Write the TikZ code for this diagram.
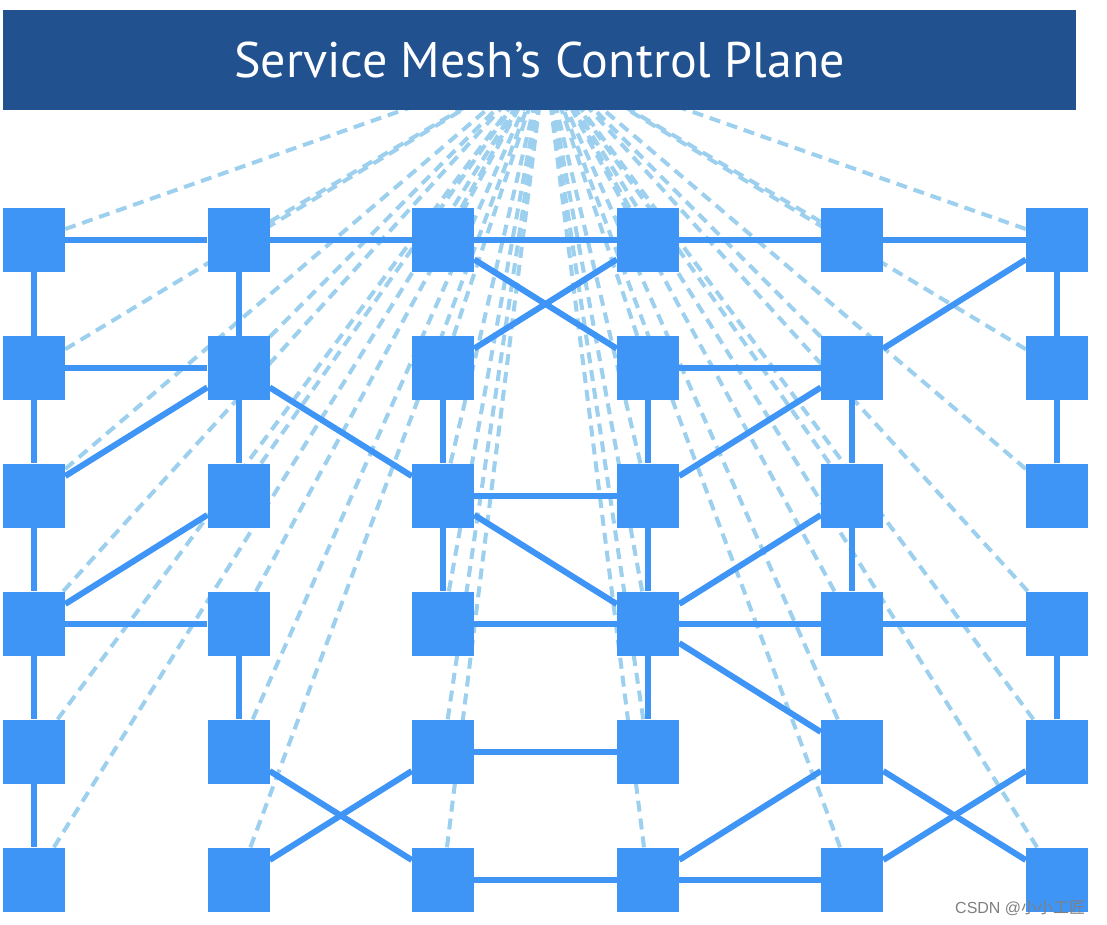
\documentclass[tikz,border=0pt]{standalone}
\usepackage{fontspec}
\newfontfamily\hdrfont{PT Sans}
\newfontfamily\cjkfont{Noto Sans CJK SC}
\newfontfamily\wmfont{Liberation Sans}
\definecolor{hdrblue}{HTML}{21528F}
\definecolor{nodeblue}{HTML}{3F95F6}
\definecolor{dashblue}{HTML}{9CD0EE}
\pgfdeclarelayer{bg}
\pgfdeclarelayer{mid}
\pgfsetlayers{bg,mid,main}
\begin{document}
\begin{tikzpicture}[x=1pt,y=-1pt,
  svc/.style={rectangle,fill=nodeblue,minimum width=62pt,minimum height=64pt,inner sep=0pt},
  ctrl/.style={dashblue,line width=4pt,dash pattern=on 11pt off 7pt},
  link/.style={nodeblue,line width=6pt},
  plane/.style={rectangle,fill=hdrblue,minimum width=1073pt,minimum height=100pt,inner sep=0pt,text=white,font=\hdrfont\fontsize{50}{50}\selectfont}]
\useasboundingbox (0,0) rectangle (1107,925);
\coordinate (vp) at (545,60);
\foreach \c/\x in {1/34,2/238.5,3/443,4/648,5/852,6/1057}
  \foreach \r/\y in {1/240,2/368,3/495.5,4/623.5,5/751.5,6/879.5}
    \node[svc] (n\r\c) at (\x,\y) {};
\begin{pgfonlayer}{bg}
\fill[white] (0,0) rectangle (1107,925);
\foreach \c in {1,...,6}
  \foreach \r in {1,...,6}
    \draw[ctrl] (n\r\c) -- (vp);
\end{pgfonlayer}
\begin{pgfonlayer}{mid}
\foreach \a/\b in {11/12,12/13,13/14,14/15,15/16,21/22,24/25,33/34,41/42,43/44,44/45,45/46,53/54,63/64,64/65,
  11/21,21/31,31/41,41/51,51/61,12/22,22/32,42/52,23/33,33/43,24/34,34/44,44/54,25/35,35/45,16/26,26/36,46/56,
  31/22,22/33,41/32,13/24,23/14,33/44,34/25,25/16,44/35,44/55,64/55,55/66,65/56,52/63,62/53}
  \draw[link] (n\a) -- (n\b);
\end{pgfonlayer}
\node[plane] (cp) at (539.5,60) {Service Mesh’s Control Plane};
\node[text=gray,font=\wmfont\fontsize{16}{16}\selectfont,anchor=base west,inner sep=0pt] (wm) at (955,913) {CSDN @{\cjkfont 小小工匠}};
\end{tikzpicture}
\end{document}
